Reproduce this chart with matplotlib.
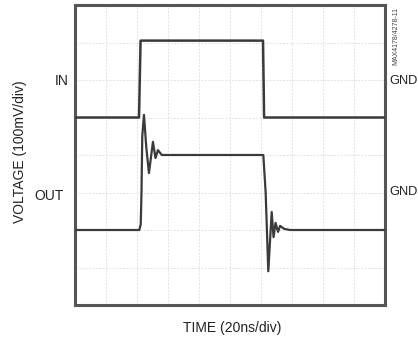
import matplotlib
matplotlib.use("Agg")
import matplotlib.pyplot as plt

plt.rcParams['font.family'] = ['Liberation Sans', 'DejaVu Sans']

# Time in ns (20 ns/div), voltage in divisions (100 mV/div)
in_t = [0, 41.3, 42.3, 121.3, 122.0, 200]
in_v = [5.0, 5.0, 7.05, 7.05, 5.0, 5.0]

out_t = [0, 41.5, 42.4, 42.9, 43.4, 44.5, 46.0, 47.7, 50.3, 51.9, 53.5, 56.0, 61.3,
         121.5, 123.0, 124.7, 126.9, 128.1, 129.4, 131.0, 132.3, 135.0, 138.7, 200]
out_v = [2.0, 2.0, 2.15, 3.0, 4.5, 5.07, 4.2, 3.52, 4.35, 3.92, 4.13, 4.0, 4.0,
         4.0, 3.0, 0.9, 2.48, 1.81, 2.19, 1.95, 2.11, 2.03, 2.0, 2.0]

x_divs = [0, 20, 40, 60, 80, 100, 120, 140, 160, 180, 200]
y_divs = [0, 1, 2, 3, 4, 5, 6, 7, 8]

W, H = 418, 342
fig = plt.figure(figsize=(W / 100, H / 100), dpi=100)
ax = fig.add_axes([75 / W, (H - 305) / H, 310 / W, 300 / H])
ax.set_xlim(0, 200)
ax.set_ylim(0, 8)

for xv in x_divs:
    ax.axvline(xv, color='#e2e2e2', lw=0.7, ls=(0, (2, 1.5)), zorder=1)
for yv in y_divs:
    ax.axhline(yv, color='#e2e2e2', lw=0.7, ls=(0, (2, 1.5)), zorder=1)

ax.plot(in_t, in_v, color='#3a3a3a', lw=1.8, zorder=3)
ax.plot(out_t, out_v, color='#3a3a3a', lw=1.6, zorder=3)

ax.set_xticks([])
ax.set_yticks([])
for s in ax.spines.values():
    s.set_color('#555555')
    s.set_linewidth(2.2)

def px(x, y):
    return x / W, 1 - y / H

fs = 10
fig.text(*px(62, 81), 'IN', ha='center', va='center', fontsize=fs, color='#222222')
fig.text(*px(49, 196), 'OUT', ha='center', va='center', fontsize=fs, color='#222222')
fig.text(*px(389, 81), 'GND', ha='left', va='center', fontsize=9.3, color='#222222')
fig.text(*px(389, 192), 'GND', ha='left', va='center', fontsize=9.3, color='#222222')
fig.text(*px(20, 152), 'VOLTAGE (100mV/div)', ha='center', va='center', rotation=90,
         fontsize=fs, color='#222222')
fig.text(*px(232, 328), 'TIME (20ns/div)', ha='center', va='center', fontsize=fs, color='#222222')
fig.text(*px(396, 36), 'MAX4178/4278-11', ha='center', va='center', rotation=90,
         fontsize=5, color='#444444')

fig.savefig('out.png', dpi=100)
